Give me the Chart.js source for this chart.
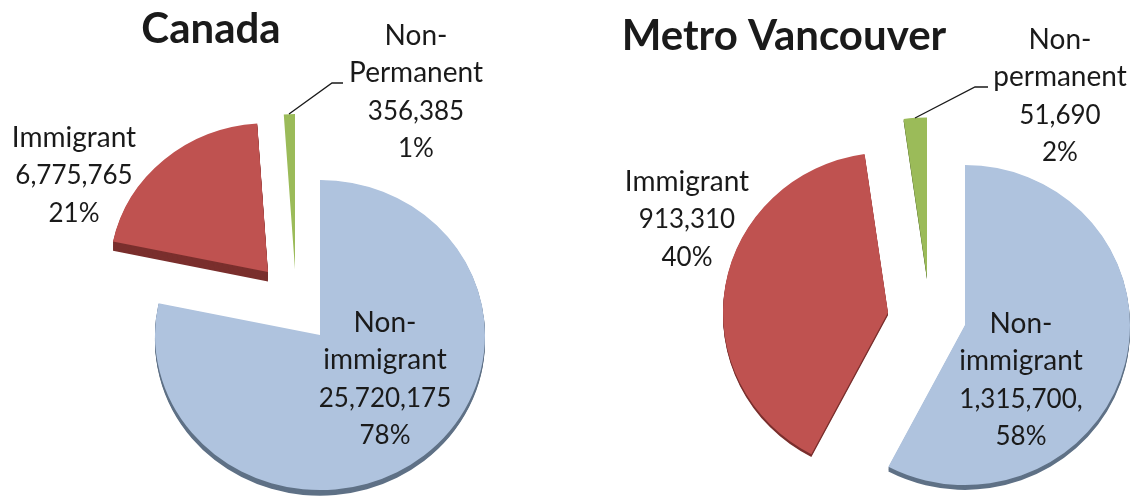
<!DOCTYPE html>
<html>
<head>
<meta charset="utf-8">
<script src="https://cdn.jsdelivr.net/npm/chart.js@4"></script>
<style>
html, body { margin: 0; background: #fff; overflow: hidden; }
canvas { position: absolute; top: 0; }
#canadaChart { left: 0; }
#vancouverChart { left: 566px; }
</style>
</head>
<body>
<canvas id="canadaChart" width="566" height="496"></canvas>
<canvas id="vancouverChart" width="566" height="496"></canvas>
<script>
const categories = ['Non-immigrant', 'Immigrant', 'Non-permanent'];
const canadaValues = [25720175, 6775765, 356385];
const vancouverValues = [1315700, 913310, 51690];

const canadaLabels = [
    ['Non-', 'immigrant', '25,720,175', '78%'],
    ['Immigrant', '6,775,765', '21%'],
    ['Non-', 'Permanent', '356,385', '1%']
];
const vancouverLabels = [
    ['Non-', 'immigrant', '1,315,700,', '58%'],
    ['Immigrant', '913,310', '40%'],
    ['Non-', 'permanent', '51,690', '2%']
];

const sliceColors = ['#afc3de', '#bf5250', '#9bbb59'];
const rimColors = ['#5f7186', '#7a2f2d', '#5f7535'];

// pulls slices away from the centre, chart.js offset is too weak for wide slices
const explodePlugin = {
    id: 'explode',
    afterDatasetsUpdate(chart, args, opts) {
        chart.getDatasetMeta(0).data.forEach((arc, i) => {
            arc.x += opts.pull[i][0];
            arc.y += opts.pull[i][1];
            arc.outerRadius *= opts.shrink[i];
        });
    },
    beforeDatasetsDraw(chart, args, opts) {
        const ctx = chart.ctx;
        const area = chart.chartArea;
        const cx = (area.left + area.right) / 2;
        const cy = (area.top + area.bottom) / 2;
        ctx.save();
        ctx.translate(cx, cy);
        ctx.scale(1, opts.squash);
        ctx.translate(-cx, -cy);
        // rim underneath the slices
        chart.getDatasetMeta(0).data.forEach((arc, i) => {
            const real = arc.options;
            arc.options = Object.create(real, {
                backgroundColor: { value: rimColors[i] },
                borderWidth: { value: 0 }
            });
            for (let d = opts.depth[i]; d > 0; d--) {
                ctx.save();
                ctx.translate(0, d);
                arc.draw(ctx);
                ctx.restore();
            }
            arc.options = real;
        });
    },
    afterDatasetsDraw(chart) {
        chart.ctx.restore();
    }
};

const textPlugin = {
    id: 'pieText',
    afterDraw(chart, args, opts) {
        const ctx = chart.ctx;
        ctx.save();
        ctx.textAlign = 'center';
        ctx.textBaseline = 'alphabetic';
        ctx.fillStyle = '#1a1a1a';
        ctx.font = 'bold 42px Lato';
        ctx.fillText(opts.title, opts.titleX, opts.titleY);
        opts.lines.forEach((lines, i) => {
            lines.forEach((line, j) => {
                // Lato digits run wide next to its letters
                ctx.font = /\d/.test(line) ? '26px Lato' : '28px Lato';
                ctx.fillText(line, opts.labelX[i], opts.labelY[i] + j * opts.lineGap);
            });
        });
        ctx.strokeStyle = '#1a1a1a';
        ctx.lineWidth = 1.3;
        ctx.beginPath();
        opts.leader.forEach((p, i) => {
            if (i === 0) ctx.moveTo(p[0], p[1]);
            else ctx.lineTo(p[0], p[1]);
        });
        ctx.stroke();
        ctx.restore();
    }
};

function drawPie(id, values, centre, radius, explode, text) {
    new Chart(document.getElementById(id), {
        type: 'pie',
        data: {
            labels: categories,
            datasets: [{
                data: values,
                backgroundColor: sliceColors,
                borderWidth: 0
            }]
        },
        options: {
            responsive: false,
            animation: false,
            radius: radius,
            layout: {
                padding: {
                    left: centre[0] > 283 ? 2 * centre[0] - 566 : 0,
                    right: centre[0] > 283 ? 0 : 566 - 2 * centre[0],
                    top: centre[1] > 248 ? 2 * centre[1] - 496 : 0,
                    bottom: centre[1] > 248 ? 0 : 496 - 2 * centre[1]
                }
            },
            plugins: {
                legend: { display: false },
                tooltip: { enabled: false },
                explode: explode,
                pieText: text
            }
        },
        plugins: [explodePlugin, textPlugin]
    });
}

drawPie('canadaChart', canadaValues, [320, 335], 165, {
    pull: [[0, 0], [-52, -67], [-25, -70]],
    shrink: [1, 0.96, 1],
    squash: 0.94,
    depth: [6, 10, 0]
}, {
    title: 'Canada',
    titleX: 211, titleY: 43,
    lines: canadaLabels,
    labelX: [385, 74, 416],
    labelY: [332, 147, 45],
    lineGap: 37.3,
    leader: [[289, 114], [332, 83], [343, 83]]
});

drawPie('vancouverChart', vancouverValues, [399, 325], 165, {
    pull: [[0, 0], [-77, -13], [-38, -49]],
    shrink: [1, 1, 1],
    squash: 0.97,
    depth: [5, 3, 2]
}, {
    title: 'Metro Vancouver',
    titleX: 218, titleY: 50,
    lines: vancouverLabels,
    labelX: [455, 121, 494],
    labelY: [333, 191, 49],
    lineGap: 37.3,
    leader: [[349, 118], [409, 87], [422, 87]]
});
</script>
</body>
</html>
